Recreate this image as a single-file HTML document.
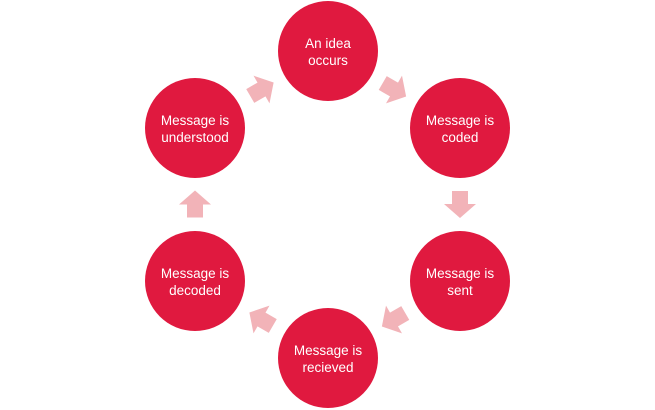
<!DOCTYPE html>
<html><head><style>
html,body{margin:0;padding:0;background:#fff;}
svg{display:block;}
text{font-family:"Liberation Sans",sans-serif;font-size:13.5px;fill:#fff;text-anchor:middle;}
</style></head><body>
<svg width="655" height="410" viewBox="0 0 655 410">
<defs>
<polygon id="ar" points="-13,-8 0,-8 0,-16 14,0 0,16 0,8 -13,8" fill="#f2b3b8"/>
</defs>
<use href="#ar" transform="translate(261.5,89.5) rotate(-30)"/>
<use href="#ar" transform="translate(394,89.5) rotate(30)"/>
<use href="#ar" transform="translate(460,204) rotate(90)"/>
<use href="#ar" transform="translate(394,319.5) rotate(150)"/>
<use href="#ar" transform="translate(261.5,319.5) rotate(210)"/>
<use href="#ar" transform="translate(195,204.5) rotate(270)"/>
<g fill="#e0193f">
<circle cx="328" cy="51" r="50"/>
<circle cx="460" cy="128" r="50"/>
<circle cx="460" cy="281" r="50"/>
<circle cx="328" cy="358" r="50"/>
<circle cx="195" cy="281" r="50"/>
<circle cx="195" cy="128" r="50"/>
</g>
<text x="328" y="48">An idea</text><text x="328" y="65">occurs</text>
<text x="460" y="125">Message is</text><text x="460" y="142">coded</text>
<text x="460" y="278">Message is</text><text x="460" y="295">sent</text>
<text x="328" y="355">Message is</text><text x="328" y="372">recieved</text>
<text x="195" y="278">Message is</text><text x="195" y="295">decoded</text>
<text x="195" y="125">Message is</text><text x="195" y="142">understood</text>
</svg>
</body></html>
